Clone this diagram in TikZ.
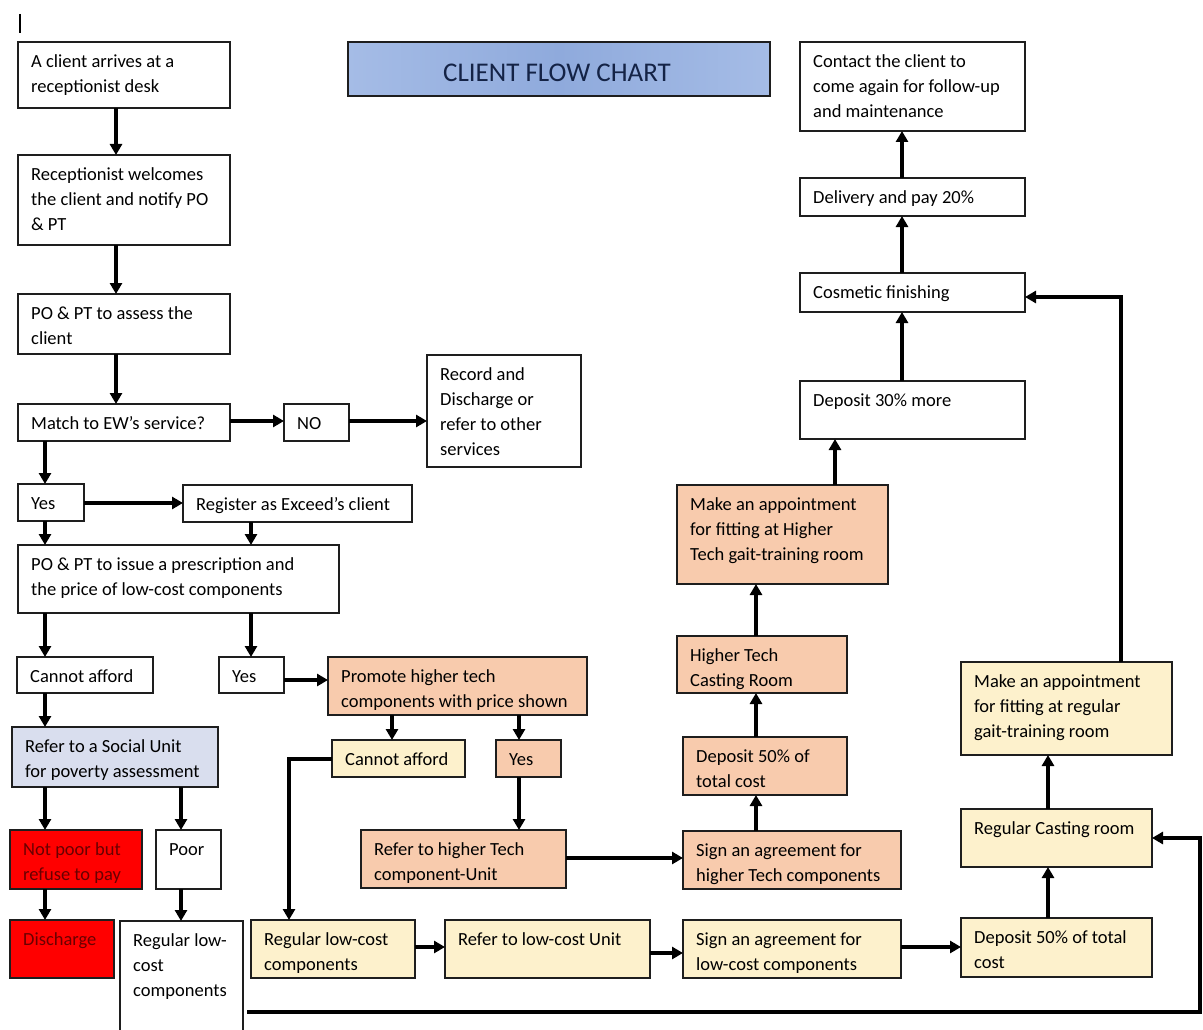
\documentclass[tikz,border=0pt]{standalone}
\usepackage{fontspec}
\setmainfont{Carlito}
\usetikzlibrary{arrows.meta}
\definecolor{salmon}{RGB}{248,203,173}
\definecolor{yel}{RGB}{253,241,204}
\definecolor{grayblue}{RGB}{217,222,238}
\definecolor{redbox}{RGB}{255,0,0}
\definecolor{redtext}{RGB}{105,0,0}
\definecolor{titleblue}{RGB}{143,170,220}
\definecolor{titlelight}{RGB}{165,188,230}
\definecolor{titletext}{RGB}{20,35,70}
\definecolor{edge}{RGB}{30,30,30}
\tikzset{
 box/.style={draw=edge, line width=1.6pt, inner sep=0pt, outer sep=0pt, anchor=north west},
 wbox/.style={box, fill=white},
 sbox/.style={box, fill=salmon},
 ybox/.style={box, fill=yel},
 gbox/.style={box, fill=grayblue},
 rbox/.style={box, fill=redbox},
 tbox/.style={box, left color=titlelight, right color=titlelight, middle color=titleblue},
 txt/.style={anchor=north west, inner sep=0pt, align=left, font=\fontsize{18.5}{25}\selectfont, text=black},
 rtxt/.style={txt, text=redtext},
 arr/.style={line width=3.5pt, -{Triangle[length=11pt,width=12pt]}},
}
\newcommand\bx[8]{%
 \node[#2, minimum width=#6pt-#4pt, minimum height=#7pt-#5pt] (#1) at (#4,#5) {};
 \node[#3] (#1-t) at ([xshift=13pt,yshift=-8pt]#1.north west) {\strut #8};
}
\begin{document}
\begin{tikzpicture}[x=1pt,y=-1pt]
\useasboundingbox (0,0) rectangle (1203,1030);
\fill[white] (0,0) rectangle (1203,1030);
\clip (0,0) rectangle (1203,1030);
% columns and rows used by connectors
\coordinate (x45) at (45,0);
\coordinate (x116) at (116,0);
\coordinate (x181) at (181,0);
\coordinate (x251) at (251,0);
\coordinate (x289) at (289,0);
\coordinate (x392) at (392,0);
\coordinate (x519) at (519,0);
\coordinate (x756) at (756,0);
\coordinate (x835) at (835,0);
\coordinate (x902) at (902,0);
\coordinate (x1048) at (1048,0);
\coordinate (x1121) at (1121,0);
\coordinate (x1200) at (1200,0);
\coordinate (y421) at (0,421);
\coordinate (y503) at (0,503);
\coordinate (y680) at (0,680);
\coordinate (y759) at (0,759);
\coordinate (y858) at (0,858);
\coordinate (y947) at (0,947);
\coordinate (y953) at (0,953);
\coordinate (y838) at (0,838);
\coordinate (y297) at (0,297);
\coordinate (y1012) at (0,1012);

% cursor mark
\draw[line width=1.2pt] (20,14) -- (20,33);

% title
\node[tbox, minimum width=422pt, minimum height=54pt] (title) at (348,42) {};
\node[anchor=base, inner sep=0pt, font=\fontsize{27}{30}\selectfont, text=titletext] (title-t) at (557,82) {CLIENT FLOW CHART};

% boxes
\bx{a1}{wbox}{txt}{18}{42}{230}{108}{A client arrives at a\\receptionist desk}
\bx{a2}{wbox}{txt}{18}{155}{230}{245}{Receptionist welcomes\\the client and notify PO\\\& PT}
\bx{a3}{wbox}{txt}{18}{294}{230}{354}{PO \& PT to assess the\\client}
\bx{a4}{wbox}{txt}{18}{404}{230}{441}{Match to EW’s service?}
\bx{no}{wbox}{txt}{284}{404}{349}{441}{NO}
\bx{rec}{wbox}{txt}{427}{355}{581}{467}{Record and\\Discharge or\\refer to other\\services}
\bx{yes1}{wbox}{txt}{18}{484}{84}{521}{Yes}
\bx{reg}{wbox}{txt}{183}{485}{412}{522}{Register as Exceed’s client}
\bx{iss}{wbox}{txt}{18}{545}{339}{613}{PO \& PT to issue a prescription and\\the price of low-cost components}
\bx{ca1}{wbox}{txt}{17}{657}{153}{693}{Cannot afford}
\bx{yes2}{wbox}{txt}{219}{657}{284}{693}{Yes}
\bx{prom}{sbox}{txt}{328}{657}{587}{715}{Promote higher tech\\components with price shown}
\bx{soc}{gbox}{txt}{12}{727}{218}{787}{Refer to a Social Unit\\for poverty assessment}
\bx{ca2}{ybox}{txt}{332}{740}{465}{777}{Cannot afford}
\bx{yes3}{sbox}{txt}{496}{740}{561}{777}{Yes}
\bx{np}{rbox}{rtxt}{10}{830}{142}{889}{Not poor but\\refuse to pay}
\bx{poor}{wbox}{txt}{156}{830}{221}{889}{Poor}
\bx{dis}{rbox}{rtxt}{10}{920}{114}{978}{Discharge}
\bx{rlw}{wbox}{txt}{120}{921}{243}{1045}{Regular low-\\cost\\components}
\bx{rht}{sbox}{txt}{361}{830}{566}{888}{Refer to higher Tech\\component-Unit}
\bx{sht}{sbox}{txt}{683}{831}{901}{889}{Sign an agreement for\\higher Tech components}
\bx{dht}{sbox}{txt}{683}{737}{847}{795}{Deposit 50\% of\\total cost}
\bx{cht}{sbox}{txt}{677}{636}{847}{693}{Higher Tech\\Casting Room}
\bx{mht}{sbox}{txt}{677}{485}{888}{584}{Make an appointment\\for fitting at Higher\\Tech gait-training room}
\bx{d30}{wbox}{txt}{800}{381}{1025}{439}{Deposit 30\% more}
\bx{cos}{wbox}{txt}{800}{273}{1025}{312}{Cosmetic finishing}
\bx{del}{wbox}{txt}{800}{178}{1025}{216}{Delivery and pay 20\%}
\bx{con}{wbox}{txt}{800}{42}{1025}{131}{Contact the client to\\come again for follow-up\\and maintenance}
\bx{rlc}{ybox}{txt}{251}{920}{415}{978}{Regular low-cost\\components}
\bx{rlu}{ybox}{txt}{445}{920}{650}{978}{Refer to low-cost Unit}
\bx{slc}{ybox}{txt}{683}{920}{901}{978}{Sign an agreement for\\low-cost components}
\bx{dlc}{ybox}{txt}{961}{918}{1152}{977}{Deposit 50\% of total\\cost}
\bx{rcr}{ybox}{txt}{961}{809}{1152}{867}{Regular Casting room}
\bx{mrg}{ybox}{txt}{961}{662}{1172}{755}{Make an appointment\\for fitting at regular\\gait-training room}

% connectors
\draw[arr] (a1.south -| x116) -- (a2.north -| x116);
\draw[arr] (a2.south -| x116) -- (a3.north -| x116);
\draw[arr] (a3.south -| x116) -- (a4.north -| x116);
\draw[arr] (a4.east |- y421) -- (no.west |- y421);
\draw[arr] (no.east |- y421) -- (rec.west |- y421);
\draw[arr] (a4.south -| x45) -- (yes1.north -| x45);
\draw[arr] (yes1.east |- y503) -- (reg.west |- y503);
\draw[arr] (yes1.south -| x45) -- (iss.north -| x45);
\draw[arr] (reg.south -| x251) -- (iss.north -| x251);
\draw[arr] (iss.south -| x45) -- (ca1.north -| x45);
\draw[arr] (iss.south -| x251) -- (yes2.north -| x251);
\draw[arr] (yes2.east |- y680) -- (prom.west |- y680);
\draw[arr] (ca1.south -| x45) -- (soc.north -| x45);
\draw[arr] (soc.south -| x45) -- (np.north -| x45);
\draw[arr] (soc.south -| x181) -- (poor.north -| x181);
\draw[arr] (np.south -| x45) -- (dis.north -| x45);
\draw[arr] (poor.south -| x181) -- (rlw.north -| x181);
\draw[arr] (prom.south -| x392) -- (ca2.north -| x392);
\draw[arr] (prom.south -| x519) -- (yes3.north -| x519);
\draw[arr] (ca2.west |- y759) -- (x289 |- y759) -- (rlc.north -| x289);
\draw[arr] (yes3.south -| x519) -- (rht.north -| x519);
\draw[arr] (rht.east |- y858) -- (sht.west |- y858);
\draw[arr] (sht.north -| x756) -- (dht.south -| x756);
\draw[arr] (dht.north -| x756) -- (cht.south -| x756);
\draw[arr] (cht.north -| x756) -- (mht.south -| x756);
\draw[arr] (mht.north -| x835) -- (d30.south -| x835);
\draw[arr] (d30.north -| x902) -- (cos.south -| x902);
\draw[arr] (cos.north -| x902) -- (del.south -| x902);
\draw[arr] (del.north -| x902) -- (con.south -| x902);
\draw[arr] (rlc.east |- y947) -- (rlu.west |- y947);
\draw[arr] (rlu.east |- y953) -- (slc.west |- y953);
\draw[arr] (slc.east |- y947) -- (dlc.west |- y947);
\draw[arr] (dlc.north -| x1048) -- (rcr.south -| x1048);
\draw[arr] (rcr.north -| x1048) -- (mrg.south -| x1048);
\draw[arr] (mrg.north -| x1121) -- (x1121 |- y297) -- (cos.east |- y297);
\draw[arr, shorten <=4pt] (rlw.east |- y1012) -- (x1200 |- y1012) -- (x1200 |- y838) -- (rcr.east |- y838);
\end{tikzpicture}
\end{document}
